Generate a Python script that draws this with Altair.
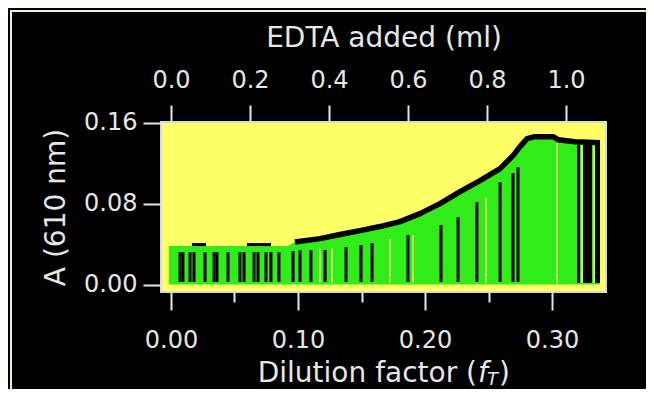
import altair as alt
import pandas as pd

# ---- data ----
# green area / black curve: dilution factor f_T and absorbance A(610 nm)
curve_f = [-0.0016, 0.092, 0.0976, 0.1173, 0.1331, 0.1488, 0.1646, 0.1803, 0.1961,
           0.2118, 0.2276, 0.2433, 0.2591, 0.2693, 0.2748, 0.2803, 0.2866, 0.3008,
           0.3047, 0.3181, 0.3378]
curve_a = [0.038, 0.038, 0.042, 0.0454, 0.0494, 0.0533, 0.0573, 0.0622, 0.0701,
           0.0800, 0.0919, 0.1027, 0.1146, 0.1274, 0.1363, 0.1442, 0.1462, 0.1462,
           0.1432, 0.1412, 0.1402]
main_start = 2  # the black curve runs continuously from this point on

# short black dashes on the flat early part of the curve
dash_f = [0.0165, 0.0276, 0.0598, 0.0787]
dash_a = [0.0395, 0.0395, 0.0395, 0.0395]
dash_id = ["d1", "d1", "d2", "d2"]

# black vertical lines inside the green area
stick_f = [0.0071, 0.0094, 0.0150, 0.0181, 0.0268, 0.0339, 0.0362, 0.0449, 0.0543,
           0.0575, 0.0654, 0.0685, 0.0748, 0.0787, 0.0850, 0.0961, 0.1016, 0.1102,
           0.1213, 0.1378, 0.1496, 0.1583, 0.1866, 0.2126, 0.2260, 0.2409, 0.2591,
           0.2693, 0.2732]
stick_top = [0.032, 0.032, 0.032, 0.032, 0.032, 0.032, 0.032, 0.032, 0.032,
             0.032, 0.032, 0.032, 0.032, 0.032, 0.032, 0.033, 0.034, 0.0341,
             0.0341, 0.0370, 0.0390, 0.0410, 0.0489, 0.0588, 0.0667, 0.0815, 0.1012,
             0.1101, 0.1160]
stick_bottom = 0.0025

# wide black blocks at the right end
block_f1 = [0.3197, 0.3244, 0.3339]
block_f2 = [0.3220, 0.3315, 0.3378]
block_top = [0.1420, 0.1420, 0.1420]

# pale (yellow) gaps inside the green
gap_f = [0.1173, 0.1268, 0.1724, 0.1906, 0.2480, 0.3039, 0.3236, 0.3331]
gap_top = [0.036, 0.036, 0.045, 0.049, 0.0854, 0.1398, 0.138, 0.138]

# axis ticks
bottom_ticks = [0.0, 0.05, 0.10, 0.15, 0.20, 0.25, 0.30]
left_ticks = [0.0, 0.08, 0.16]
edta_ticks = [0.0, 0.2, 0.4, 0.6, 0.8, 1.0]

# ---- styling ----
YELLOW = "#ffff66"
GREEN = "#30ec18"
LIGHT = "#e6e6e6"
FONT = "DejaVu Sans"
W, H = 445, 170

xs = alt.Scale(domain=[-0.00787, 0.3425], nice=False, zero=False)
ys = alt.Scale(domain=[-0.0074, 0.1607], nice=False, zero=False)
es = alt.Scale(domain=[-0.0253, 1.1013], nice=False, zero=False)

major = "abs(datum.value*10 - round(datum.value*10)) < 0.001"
x_axis = alt.Axis(values=bottom_ticks, title=None,
                  tickSize={"condition": {"test": "!(" + major + ")", "value": 10}, "value": 18},
                  labelExpr=major + " ? format(datum.value, '.2f') : ''", labelPadding=18)
y_axis = alt.Axis(values=left_ticks, format=".2f", title="A (610 nm)", tickSize=18,
                  labelPadding=6, titlePadding=13)

curve_df = pd.DataFrame({"f": curve_f, "a": curve_a, "base": [0.0] * len(curve_f)})
line_df = pd.DataFrame({"f": curve_f[main_start:], "a": curve_a[main_start:]})
dash_df = pd.DataFrame({"f": dash_f, "a": dash_a, "seg": dash_id})
stick_df = pd.DataFrame({"f": stick_f, "top": stick_top, "bot": [stick_bottom] * len(stick_f)})
block_df = pd.DataFrame({"f1": block_f1, "f2": block_f2, "top": block_top, "bot": [0.0015] * 3})
gap_df = pd.DataFrame({"f": gap_f, "top": gap_top, "bot": [0.0015] * len(gap_f)})
one = pd.DataFrame({"k": [0]})

area = alt.Chart(curve_df).mark_area(color=GREEN, opacity=1).encode(
    x=alt.X("f:Q", scale=xs, axis=x_axis),
    y=alt.Y("a:Q", scale=ys, axis=y_axis),
    y2="base:Q",
)
gaps = alt.Chart(gap_df).mark_rule(color="#f0f07a", strokeWidth=1.5).encode(
    x=alt.X("f:Q", scale=xs), y=alt.Y("top:Q", scale=ys), y2="bot:Q")
sticks = alt.Chart(stick_df).mark_rule(color="black", strokeWidth=3).encode(
    x=alt.X("f:Q", scale=xs), y=alt.Y("top:Q", scale=ys), y2="bot:Q")
blocks = alt.Chart(block_df).mark_rect(color="black").encode(
    x=alt.X("f1:Q", scale=xs), x2="f2:Q", y=alt.Y("top:Q", scale=ys), y2="bot:Q")
line = alt.Chart(line_df).mark_line(color="black", strokeWidth=5.5, strokeJoin="round").encode(
    x=alt.X("f:Q", scale=xs), y=alt.Y("a:Q", scale=ys))
dashes = alt.Chart(dash_df).mark_line(color="black", strokeWidth=3).encode(
    x=alt.X("f:Q", scale=xs), y=alt.Y("a:Q", scale=ys), detail="seg:N")

# bottom axis title with italic f and subscript T
ty = H + 90
t1 = alt.Chart(one).mark_text(align="right", baseline="alphabetic", font=FONT, fontSize=28, color=LIGHT).encode(
    x=alt.value(316), y=alt.value(ty), text=alt.value("Dilution factor ("))
t2 = alt.Chart(one).mark_text(align="left", baseline="alphabetic", font=FONT, fontSize=28, fontStyle="italic", color=LIGHT).encode(
    x=alt.value(317), y=alt.value(ty), text=alt.value("f"))
t3 = alt.Chart(one).mark_text(align="left", baseline="alphabetic", font=FONT, fontSize=18, fontStyle="italic", color=LIGHT).encode(
    x=alt.value(326), y=alt.value(ty + 2.5), text=alt.value("T"))
t4 = alt.Chart(one).mark_text(align="left", baseline="alphabetic", font=FONT, fontSize=28, color=LIGHT).encode(
    x=alt.value(338), y=alt.value(ty), text=alt.value(")"))

frame = alt.Chart(one).mark_rect(fill=None, stroke="#e6f4c8", strokeWidth=2).encode(
    x=alt.value(-150), x2=alt.value(800), y=alt.value(-111), y2=alt.value(600))

main = alt.layer(area, gaps, sticks, blocks, dashes, line, t1, t2, t3, t4, frame)

top = alt.Chart(pd.DataFrame({"e": edta_ticks})).mark_point(opacity=0).encode(
    x=alt.X("e:Q", scale=es, axis=alt.Axis(orient="top", values=edta_ticks, format=".1f",
                                             title="EDTA added (ml)", tickSize=17,
                                             labelPadding=13, titlePadding=16)),
    y=alt.value(0),
)

chart = alt.layer(main, top).resolve_scale(x="independent").properties(
    width=W, height=H,
    background="black",
    padding={"left": 153, "top": 114, "right": 40, "bottom": 97},
    autosize=alt.AutoSizeParams(type="none"),
).configure_view(
    fill=YELLOW, stroke="#d9d9d9", strokeWidth=2
).configure_axis(
    domain=False, grid=False,
    labelFont=FONT, labelFontSize=24, labelColor=LIGHT,
    tickColor=LIGHT, tickWidth=2,
    titleFont=FONT, titleFontSize=28, titleFontWeight="normal", titleColor=LIGHT,
)

chart.save("out.html", embed_options={"renderer": "svg", "actions": False})
